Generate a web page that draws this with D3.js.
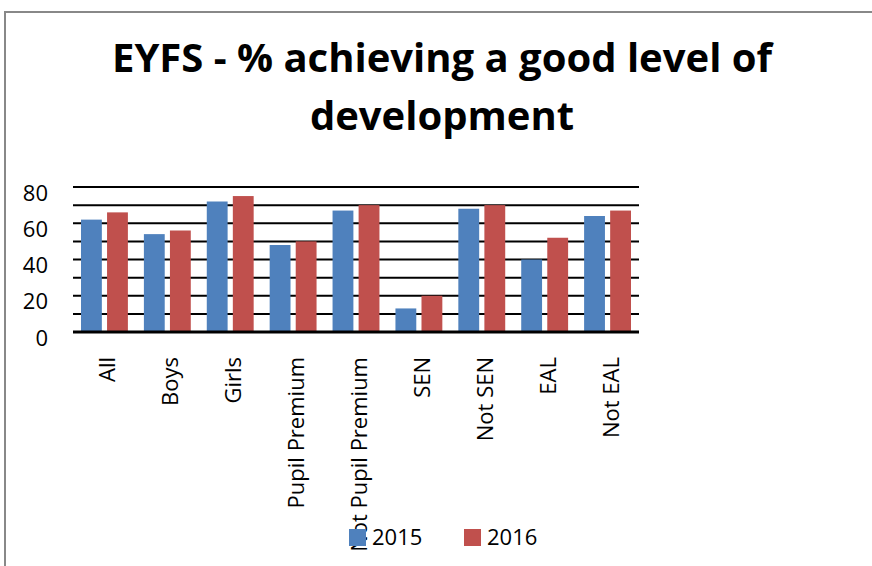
<!DOCTYPE html>
<html>
<head>
<meta charset="utf-8">
<script src="https://cdn.jsdelivr.net/npm/d3@7"></script>
<style>
  body { margin: 0; background: #fff; }
  svg { display: block; font-family: "Open Sans", sans-serif; }
</style>
</head>
<body>
<svg id="chart" width="872" height="566"></svg>
<script>
var categories = ["All", "Boys", "Girls", "Pupil Premium", "Not Pupil Premium", "SEN", "Not SEN", "EAL", "Not EAL"];
var series = ["2015", "2016"];
var values2015 = [62, 54, 72, 48, 67, 13, 68, 40, 64];
var values2016 = [66, 56, 75, 50, 70, 20, 70, 52, 67];
var yTicks = [0, 20, 40, 60, 80];
var colors = ["#4f81bd", "#c0504d"];

var svg = d3.select("#chart");

var margin = {top: 187, left: 73, right: 233, bottom: 234},
    width = 872 - margin.left - margin.right,
    height = 566 - margin.top - margin.bottom;

// outer frame
svg.append("path")
  .attr("d", "M5,566 V12 H872")
  .attr("fill", "none")
  .attr("stroke", "#888")
  .attr("stroke-width", 2);

// title
var title = svg.append("text")
  .attr("text-anchor", "middle")
  .attr("font-weight", "bold")
  .attr("font-size", 40);
title.append("tspan").attr("x", 442).attr("y", 72).text("EYFS - % achieving a good level of");
title.append("tspan").attr("x", 442).attr("y", 130).text("development");

var g = svg.append("g")
  .attr("transform", `translate(${margin.left}, ${margin.top})`);

var x = d3.scaleBand()
  .domain(categories)
  .range([0, width]);

var x1 = d3.scaleBand()
  .domain(series)
  .range([8, x.bandwidth() - 8])
  .paddingInner(0.2);

var y = d3.scaleLinear()
  .domain([0, 80])
  .range([height, 0]);

// gridlines every 10
g.append("g")
  .selectAll("line")
  .data(d3.range(10, 81, 10))
  .enter().append("line")
  .attr("x1", 0)
  .attr("x2", width)
  .attr("y1", d => y(d))
  .attr("y2", d => y(d))
  .attr("stroke", "#000")
  .attr("stroke-width", 2);

// y labels
g.append("g")
  .selectAll("text")
  .data(yTicks)
  .enter().append("text")
  .attr("x", -25)
  .attr("y", d => y(d))
  .attr("dy", "0.62em")
  .attr("text-anchor", "end")
  .attr("font-size", 22)
  .text(d => d);

// bars
var rows = categories.map((c, i) => ({cat: c, vals: [values2015[i], values2016[i]]}));
var grp = g.append("g")
  .selectAll("g")
  .data(rows)
  .enter().append("g")
  .attr("transform", d => `translate(${x(d.cat)}, 0)`);

grp.selectAll("rect")
  .data(d => d.vals.map((v, j) => ({s: series[j], v: v, j: j})))
  .enter().append("rect")
  .attr("x", d => x1(d.s))
  .attr("width", x1.bandwidth())
  .attr("y", d => y(d.v))
  .attr("height", d => y(0) - y(d.v))
  .attr("fill", d => colors[d.j]);

// axis line
g.append("line")
  .attr("x1", 0)
  .attr("x2", width)
  .attr("y1", y(0))
  .attr("y2", y(0))
  .attr("stroke", "#000")
  .attr("stroke-width", 3);

// legend (drawn before x labels so labels overlap it)
var legend = svg.append("g");
var legendX = [349, 464];
series.forEach((s, i) => {
  legend.append("rect")
    .attr("x", legendX[i])
    .attr("y", 529)
    .attr("width", 17)
    .attr("height", 17)
    .attr("fill", colors[i]);
  legend.append("text")
    .attr("x", legendX[i] + 23)
    .attr("y", 537)
    .attr("dy", "0.35em")
    .attr("font-size", 22)
    .text(s);
});

// x labels
g.append("g")
  .selectAll("text")
  .data(categories)
  .enter().append("text")
  .attr("transform", d => `translate(${x(d) + x.bandwidth() / 2}, ${height + 25}) rotate(-90)`)
  .attr("text-anchor", "end")
  .attr("dy", "0.5em")
  .attr("font-size", 22)
  .text(d => d);
</script>
</body>
</html>
